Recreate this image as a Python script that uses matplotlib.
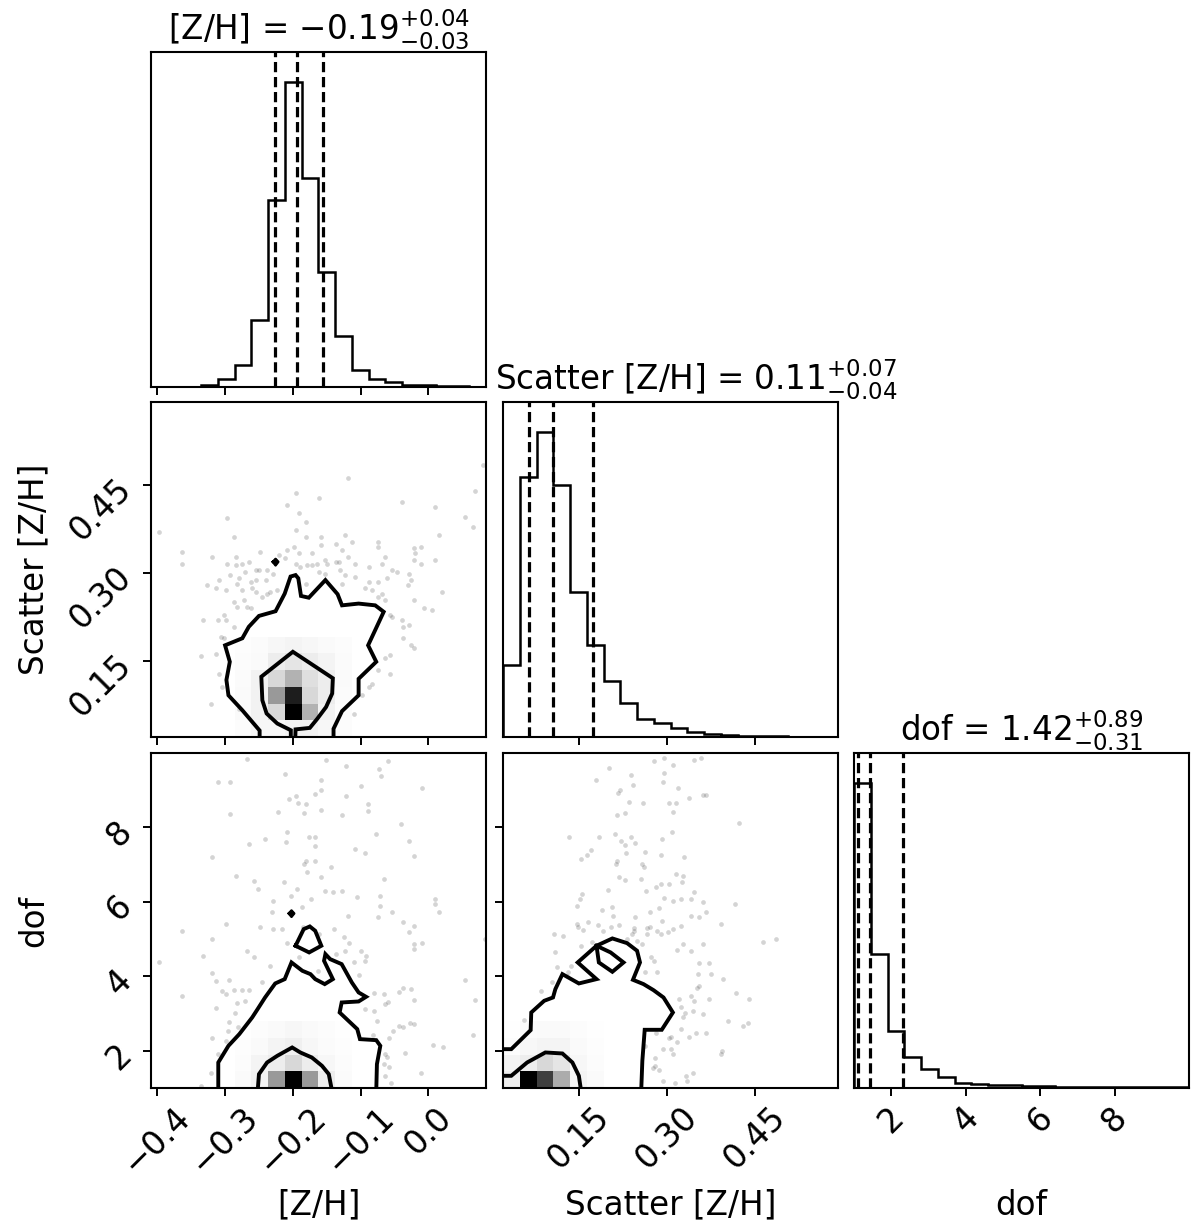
import numpy as np
import matplotlib
matplotlib.use("Agg")
import matplotlib.pyplot as plt
from matplotlib.colors import LinearSegmentedColormap

# ---------------- data ----------------
labels = ["[Z/H]", "Scatter [Z/H]", "dof"]
ranges = [(-0.4093, 0.0849), (0.021, 0.591), (1.0, 10.0)]

title_vals = [("-0.19", "0.03", "0.04"), ("0.11", "0.04", "0.07"), ("1.42", "0.31", "0.89")]
quantiles = [[-0.226, -0.194, -0.156], [0.066, 0.106, 0.174], [1.106, 1.419, 2.31]]

hist_zh = [0.5, 0.5, 1, 7, 24, 67, 202, 560, 914, 627, 344, 152, 52, 24, 14, 7, 5, 3, 2, 1]
hist_sc = [216, 783, 916, 758, 436, 276, 168, 103, 55, 43, 28, 15, 10, 5, 4, 3, 2, 1, 1, 0.5]
hist_dof = [914, 402, 172, 92, 57, 34, 14, 11, 9, 8, 5, 5, 4, 4, 4, 3, 3, 3, 2, 2]

zh_ticks = [-0.4, -0.3, -0.2, -0.1, 0.0]
zh_ticklabels = ["\u22120.4", "\u22120.3", "\u22120.2", "\u22120.1", "0.0"]
sc_ticks = [0.15, 0.30, 0.45]
sc_ticklabels = ["0.15", "0.30", "0.45"]
dof_ticks = [2, 4, 6, 8]
dof_ticklabels = ["2", "4", "6", "8"]

# samples shown as points: [Z/H] vs Scatter
pts_zh_sc_x = [-0.397, -0.363, -0.363, -0.297, -0.287, -0.319, -0.326, -0.314, -0.333, -0.311,
               -0.299, -0.287, -0.301, -0.306, -0.336, -0.314, -0.321, -0.309, -0.304, -0.284,
               -0.284, -0.297, -0.275, -0.265, -0.255, -0.248, -0.238, -0.221, -0.208, -0.196,
               -0.208, -0.191, -0.162, -0.118, -0.181, -0.159, -0.181, -0.196, -0.199, -0.191,
               -0.172, -0.152, -0.137, -0.127, -0.123, -0.113, -0.118, -0.108, -0.088, -0.075,
               -0.074, -0.069, -0.064, -0.061, -0.054, -0.047, -0.039, -0.029, -0.022, -0.020,
               -0.021, -0.011, -0.011, 0.009, 0.010, 0.015, 0.054, 0.066, 0.068, 0.081,
               0.020, 0.005, -0.007, -0.021, -0.025, -0.030, -0.057, -0.054, -0.039, -0.037,
               -0.029, -0.038, -0.025, -0.021, -0.057, -0.064, -0.057, -0.074, -0.083, -0.088,
               -0.098, -0.110, -0.279, -0.282, -0.272, -0.267, -0.262, -0.287, -0.301, -0.275,
               -0.260, -0.255, -0.245, -0.238, -0.233, -0.223, -0.230, -0.240, -0.250, -0.181,
               -0.162, -0.152, -0.127, -0.130, -0.123, -0.108, -0.093, -0.088, -0.083, -0.074,
               -0.069, -0.064, -0.074, -0.132, -0.137, -0.159, -0.172, -0.189, -0.211, -0.196,
               -0.179, -0.164, -0.150, -0.309, -0.292, -0.282, -0.299, -0.279, -0.270, -0.262,
               -0.255]
pts_zh_sc_y = [0.370, 0.336, 0.316, 0.393, 0.362, 0.328, 0.280, 0.274, 0.220, 0.220,
               0.220, 0.209, 0.189, 0.191, 0.159, 0.163, 0.078, 0.129, 0.106, 0.328,
               0.314, 0.316, 0.316, 0.319, 0.305, 0.336, 0.305, 0.331, 0.339, 0.436,
               0.416, 0.402, 0.427, 0.461, 0.387, 0.362, 0.362, 0.373, 0.345, 0.334,
               0.334, 0.322, 0.319, 0.339, 0.365, 0.353, 0.328, 0.316, 0.311, 0.353,
               0.345, 0.316, 0.328, 0.291, 0.305, 0.302, 0.421, 0.299, 0.342, 0.334,
               0.322, 0.345, 0.316, 0.413, 0.322, 0.365, 0.396, 0.379, 0.439, 0.484,
               0.268, 0.237, 0.240, 0.254, 0.288, 0.280, 0.228, 0.226, 0.220, 0.209,
               0.211, 0.189, 0.177, 0.172, 0.160, 0.155, 0.129, 0.135, 0.112, 0.106,
               0.092, 0.061, 0.069, 0.243, 0.254, 0.243, 0.240, 0.251, 0.228, 0.271,
               0.274, 0.268, 0.260, 0.265, 0.268, 0.271, 0.299, 0.288, 0.305, 0.282,
               0.302, 0.299, 0.282, 0.305, 0.297, 0.294, 0.274, 0.285, 0.271, 0.285,
               0.265, 0.254, 0.260, 0.319, 0.350, 0.348, 0.314, 0.311, 0.325, 0.316,
               0.314, 0.316, 0.316, 0.288, 0.297, 0.282, 0.271, 0.291, 0.302, 0.285,
               0.288]

# [Z/H] vs dof
pts_zh_dof_x = [-0.267, -0.311, -0.292, -0.292, -0.211, -0.151, -0.122, -0.060, -0.073, -0.070,
                -0.159, -0.158, -0.167, -0.206, -0.195, -0.193, -0.181, -0.222, -0.183, -0.158,
                -0.127, -0.121, -0.100, -0.089, -0.089, -0.010, -0.040, -0.078, -0.241, -0.265,
                -0.210, -0.208, -0.176, -0.167, -0.167, -0.181, -0.167, -0.184, -0.179, -0.158,
                -0.143, -0.108, -0.094, -0.022, -0.029, -0.065, -0.319, -0.284, -0.257, -0.252,
                -0.213, -0.194, -0.173, -0.153, -0.141, -0.128, -0.106, -0.072, -0.072, -0.075,
                -0.230, -0.231, -0.203, -0.187, -0.119, 0.010, 0.010, 0.015, -0.054, -0.038,
                -0.021, -0.029, -0.009, -0.021, -0.021, -0.299, -0.363, -0.319, -0.248, -0.230,
                -0.216, -0.208, -0.191, -0.185, -0.162, -0.139, -0.137, -0.123, -0.124, -0.117,
                -0.100, -0.092, -0.093, -0.110, -0.103, -0.163, -0.234, -0.257, -0.267, -0.333,
                -0.319, -0.314, -0.294, -0.305, -0.299, -0.287, -0.275, -0.265, -0.246, -0.397,
                -0.363, -0.282, -0.271, -0.313, -0.285, -0.294, -0.295, -0.281, -0.319, -0.298,
                -0.310, -0.321, -0.336, -0.059, -0.080, -0.066, -0.044, -0.037, -0.025, -0.022,
                -0.093, -0.064, -0.080, -0.076, -0.082, -0.058, -0.052, -0.044, -0.037, -0.027,
                -0.021, -0.011, -0.034, -0.064, -0.061, -0.066, -0.058, -0.064, -0.055, 0.006,
                0.021, 0.066, 0.068, 0.054, 0.083]
pts_zh_dof_y = [9.837, 9.210, 9.210, 8.359, 9.434, 9.810, 9.658, 9.774, 9.568, 9.389,
                9.273, 9.004, 8.897, 8.762, 8.852, 8.646, 8.628, 8.404, 8.386, 8.467,
                8.332, 8.852, 9.120, 8.628, 8.449, 9.049, 8.091, 7.822, 7.688, 7.553,
                7.598, 7.867, 7.732, 7.732, 7.508, 7.105, 7.105, 7.016, 6.792, 6.658,
                6.926, 7.419, 7.302, 7.240, 7.643, 6.613, 7.195, 6.702, 6.568, 6.344,
                6.523, 6.344, 6.075, 6.299, 6.273, 6.299, 6.120, 6.165, 5.896, 5.583,
                6.031, 5.717, 6.165, 5.852, 5.619, 6.075, 5.941, 5.717, 5.717, 5.449,
                5.359, 5.180, 4.902, 4.866, 4.732, 5.404, 5.225, 5.001, 5.314, 5.270,
                5.270, 4.893, 4.508, 5.314, 5.135, 5.270, 4.598, 4.688, 5.046, 4.884,
                4.688, 4.544, 4.401, 4.374, 4.042, 4.132, 4.284, 4.508, 4.688, 4.553,
                4.078, 3.881, 3.908, 3.613, 3.523, 3.631, 3.631, 3.640, 3.836, 4.374,
                3.478, 3.272, 3.326, 3.138, 3.004, 2.762, 2.538, 2.628, 2.332, 2.269,
                1.911, 1.392, 1.060, 3.299, 3.541, 3.523, 3.568, 3.684, 3.657, 3.371,
                3.120, 3.254, 3.075, 2.807, 2.430, 2.332, 2.520, 2.672, 2.645, 2.735,
                2.717, 1.392, 1.929, 1.911, 1.821, 1.642, 1.553, 1.329, 1.123, 2.153,
                2.108, 2.422, 3.371, 3.908, 5.001]

# Scatter vs dof
pts_sc_dof_x = [0.277, 0.295, 0.311, 0.346, 0.358, 0.201, 0.239, 0.242, 0.179, 0.220,
                0.216, 0.229, 0.215, 0.235, 0.259, 0.294, 0.293, 0.318, 0.304, 0.315,
                0.311, 0.338, 0.361, 0.367, 0.423, 0.133, 0.184, 0.212, 0.222, 0.238,
                0.245, 0.229, 0.231, 0.215, 0.214, 0.170, 0.164, 0.153, 0.263, 0.290,
                0.291, 0.309, 0.329, 0.258, 0.260, 0.218, 0.228, 0.255, 0.265, 0.281,
                0.289, 0.304, 0.316, 0.327, 0.325, 0.294, 0.311, 0.324, 0.340, 0.346,
                0.362, 0.199, 0.156, 0.152, 0.147, 0.190, 0.207, 0.208, 0.245, 0.271,
                0.286, 0.291, 0.310, 0.324, 0.301, 0.341, 0.355, 0.367, 0.392, 0.415,
                0.463, 0.486, 0.146, 0.148, 0.157, 0.165, 0.182, 0.191, 0.204, 0.218,
                0.243, 0.243, 0.241, 0.232, 0.266, 0.271, 0.283, 0.290, 0.328, 0.317,
                0.340, 0.362, 0.355, 0.372, 0.374, 0.355, 0.396, 0.418, 0.440, 0.437,
                0.429, 0.404, 0.391, 0.394, 0.367, 0.350, 0.337, 0.323, 0.317, 0.306,
                0.293, 0.306, 0.310, 0.280, 0.279, 0.276, 0.286, 0.293, 0.314, 0.333,
                0.334, 0.345, 0.263, 0.282, 0.303, 0.328, 0.344, 0.330, 0.323, 0.320,
                0.340, 0.346, 0.362, 0.371, 0.351, 0.352, 0.283, 0.263, 0.273, 0.278,
                0.258, 0.249, 0.266, 0.108, 0.123, 0.110, 0.112, 0.105, 0.085, 0.057,
                0.136, 0.132, 0.130, 0.153, 0.173]
pts_sc_dof_y = [9.774, 9.855, 9.676, 9.810, 9.855, 9.586, 9.407, 9.138, 9.273, 9.013,
                8.915, 8.377, 8.332, 8.691, 8.646, 9.452, 9.228, 9.049, 8.646, 8.646,
                8.422, 8.780, 8.870, 8.870, 8.109, 7.732, 7.750, 7.822, 7.625, 7.732,
                7.571, 7.526, 7.302, 7.105, 7.016, 7.392, 7.258, 7.150, 7.329, 7.258,
                7.688, 7.867, 7.195, 7.016, 6.926, 6.658, 6.586, 6.613, 6.299, 6.389,
                6.478, 6.478, 6.747, 6.702, 6.541, 6.102, 6.031, 6.075, 6.075, 6.273,
                6.004, 6.326, 6.210, 6.075, 5.896, 5.780, 5.852, 5.628, 5.601, 5.717,
                5.825, 5.493, 5.270, 5.359, 5.180, 5.628, 5.583, 5.717, 5.404, 5.941,
                4.911, 5.001, 5.404, 5.314, 5.252, 5.449, 5.377, 5.225, 5.314, 5.377,
                5.296, 5.225, 5.135, 5.001, 5.287, 5.314, 5.225, 5.135, 4.866, 4.714,
                4.688, 4.866, 4.365, 4.365, 4.060, 3.747, 3.917, 3.559, 3.380, 2.753,
                2.663, 2.807, 1.911, 2.000, 2.466, 2.466, 2.377, 2.574, 2.224, 2.359,
                2.045, 2.045, 1.911, 1.803, 1.597, 1.526, 1.481, 1.177, 1.132, 1.311,
                1.195, 1.401, 2.117, 2.466, 2.332, 2.896, 3.075, 3.003, 3.165, 3.389,
                3.478, 3.344, 2.986, 3.389, 3.684, 4.060, 4.105, 4.105, 4.508, 4.419,
                4.866, 4.956, 5.135, 5.135, 5.072, 4.643, 4.240, 3.836, 3.595, 2.824,
                4.284, 4.123, 4.016, 4.822, 4.911]

# relative 2D density (peak = 1) in the 20x20 grid; block start (col, row)
dens_zh_sc = [[0.10, 0.17, 0.17, 0.22, 0.22, 0.17, 0.10],
              [0.14, 0.22, 0.39, 1.00, 0.55, 0.22, 0.10],
              [0.14, 0.22, 0.63, 0.94, 0.39, 0.26, 0.12],
              [0.12, 0.22, 0.39, 0.55, 0.35, 0.26, 0.14],
              [0.10, 0.14, 0.26, 0.32, 0.26, 0.20, 0.12],
              [0.08, 0.12, 0.17, 0.20, 0.17, 0.14, 0.10]]
dens_zh_dof = [[0.14, 0.22, 0.63, 1.00, 0.63, 0.26, 0.12],
               [0.10, 0.20, 0.26, 0.39, 0.26, 0.17, 0.10],
               [0.08, 0.14, 0.20, 0.24, 0.17, 0.12, 0.08],
               [0.06, 0.10, 0.14, 0.17, 0.14, 0.10, 0.06]]
dens_sc_dof = [[0.26, 1.00, 0.87, 0.57, 0.20, 0.14],
               [0.20, 0.26, 0.39, 0.32, 0.17, 0.10],
               [0.10, 0.17, 0.20, 0.20, 0.14, 0.08],
               [0.06, 0.12, 0.14, 0.14, 0.10, 0.06]]
dens_offsets = {"zh_sc": (5, 0), "zh_dof": (5, 0), "sc_dof": (0, 0)}

# contour lines (data units)
c_zh_sc_outer_x = [-0.249, -0.249, -0.2745, -0.295, -0.298, -0.293, -0.300, -0.2745, -0.265, -0.250,
                   -0.2255, -0.212, -0.2034, -0.196, -0.192, -0.188, -0.1765, -0.152, -0.134, -0.1275,
                   -0.103, -0.0785, -0.066, -0.0785, -0.089, -0.077, -0.103, -0.103, -0.1275, -0.140, -0.140]
c_zh_sc_outer_y = [0.0, 0.032, 0.0665, 0.092, 0.118, 0.149, 0.177, 0.189, 0.2085, 0.227,
                   0.235, 0.265, 0.294, 0.2965, 0.291, 0.261, 0.258, 0.288, 0.264, 0.245,
                   0.248, 0.245, 0.234, 0.203, 0.177, 0.149, 0.120, 0.092, 0.065, 0.035, 0.0]
c_zh_sc_inner_x = [-0.203, -0.203, -0.223, -0.2387, -0.245, -0.2465, -0.200, -0.141, -0.142, -0.151,
                   -0.164, -0.175, -0.196, -0.197]
c_zh_sc_inner_y = [0.0, 0.0325, 0.044, 0.061, 0.0835, 0.1236, 0.166, 0.121, 0.095, 0.072,
                   0.052, 0.0365, 0.034, 0.0]
c_zh_sc_dot_x = [-0.2295, -0.2255, -0.2215, -0.2255, -0.2295]
c_zh_sc_dot_y = [0.319, 0.324, 0.319, 0.313, 0.319]

c_zh_dof_outer_x = [-0.310, -0.310, -0.295, -0.279, -0.260, -0.252, -0.241, -0.226, -0.212, -0.202,
                    -0.186, -0.174, -0.167, -0.153, -0.141, -0.154, -0.152, -0.145, -0.128, -0.113,
                    -0.103, -0.092, -0.103, -0.128, -0.131, -0.105, -0.101, -0.077, -0.071, -0.076, -0.077]
c_zh_dof_outer_y = [0.9, 1.687, 2.135, 2.448, 2.896, 3.120, 3.433, 3.810, 3.926, 4.374,
                    4.150, 4.060, 3.926, 3.792, 3.926, 4.419, 4.598, 4.463, 4.329, 3.836,
                    3.568, 3.451, 3.326, 3.299, 3.030, 2.583, 2.314, 2.287, 2.135, 1.642, 0.9]
c_zh_dof_island_x = [-0.196, -0.184, -0.175, -0.167, -0.158, -0.176, -0.196]
c_zh_dof_island_y = [4.822, 5.269, 5.341, 5.224, 4.822, 4.643, 4.822]
c_zh_dof_inner_x = [-0.252, -0.250, -0.238, -0.223, -0.201, -0.189, -0.172, -0.157, -0.147, -0.142]
c_zh_dof_inner_y = [0.9, 1.374, 1.687, 1.866, 2.090, 1.956, 1.821, 1.597, 1.374, 0.9]
c_zh_dof_dot_x = [-0.206, -0.202, -0.198, -0.202, -0.206]
c_zh_dof_dot_y = [5.690, 5.77, 5.690, 5.60, 5.690]

c_sc_dof_outer_x = [0.0, 0.035, 0.068, 0.069, 0.091, 0.106, 0.110, 0.122, 0.150, 0.180,
                    0.148, 0.180, 0.207, 0.232, 0.249, 0.254, 0.242, 0.260, 0.277, 0.294,
                    0.310, 0.291, 0.262, 0.258, 0.256]
c_sc_dof_outer_y = [2.045, 2.045, 2.556, 3.030, 3.344, 3.433, 3.657, 4.060, 3.810, 3.926,
                    4.374, 4.822, 5.019, 4.893, 4.688, 4.374, 3.908, 3.792, 3.630, 3.433,
                    3.030, 2.565, 2.565, 1.732, 0.9]
c_sc_dof_hole_x = [0.180, 0.184, 0.207, 0.226, 0.204, 0.180]
c_sc_dof_hole_y = [4.822, 4.374, 4.123, 4.374, 4.643, 4.822]
c_sc_dof_inner_x = [0.0, 0.035, 0.062, 0.093, 0.122, 0.139, 0.150, 0.154]
c_sc_dof_inner_y = [1.329, 1.329, 1.687, 1.956, 1.929, 1.687, 1.329, 0.9]

# ---------------- figure ----------------
FS = 23.5
fig = plt.figure(figsize=(12, 12.3), dpi=100)
L = [0.1258, 0.4192, 0.7117]
B = [0.6854, 0.4008, 0.1154]
W, H = 0.2792, 0.2724

dens_cmap = LinearSegmentedColormap.from_list("density_cmap", [(0, 0, 0, 1), (1, 1, 1, 0)])
ticks = [(zh_ticks, zh_ticklabels), (sc_ticks, sc_ticklabels), (dof_ticks, dof_ticklabels)]
hists = [hist_zh, hist_sc, hist_dof]


def style(ax):
    for s in ax.spines.values():
        s.set_linewidth(1.5)
    ax.tick_params(direction="out", length=5.5, width=1.4, labelsize=FS)


axes = {}
for i in range(3):
    for j in range(i + 1):
        ax = fig.add_axes([L[j], B[i], W, H])
        axes[(i, j)] = ax
        style(ax)

# diagonal histograms
for k in range(3):
    ax = axes[(k, k)]
    lo, hi = ranges[k]
    edges = np.linspace(lo, hi, len(hists[k]) + 1)
    vals = np.array(hists[k], dtype=float)
    ax.stairs(vals, edges, color="k", lw=1.8, baseline=0)
    for q in quantiles[k]:
        ax.axvline(q, color="k", ls=(0, (3.2, 1.5)), lw=2.3)
    ax.set_xlim(lo, hi)
    ax.set_ylim(0, 1.1 * vals.max())
    ax.set_yticks([])
    t, tl = ticks[k]
    ax.set_xticks(t)
    med, lo_e, hi_e = title_vals[k]
    title = "{0} = ${1}_{{-{2}}}^{{+{3}}}$".format(labels[k], med, lo_e, hi_e)
    xpos = 0.578 if k == 1 else 0.5
    ax.set_title(title, fontsize=FS, x=xpos, pad=7)
    if k == 2:
        ax.set_xticklabels(tl, rotation=45)
        ax.set_xlabel(labels[k], fontsize=FS)
        ax.xaxis.set_label_coords(0.5, -0.3)
    else:
        ax.set_xticklabels([])


def panel(ax, px, py, dens, off, xr, yr, lines, dots):
    ax.plot(px, py, "o", ms=3.4, color="k", alpha=0.17, mec="none", zorder=1)
    xe = np.linspace(xr[0], xr[1], 21)
    ye = np.linspace(yr[0], yr[1], 21)
    F = np.zeros((20, 20))
    d = np.array(dens)
    c0, r0 = off
    F[r0:r0 + d.shape[0], c0:c0 + d.shape[1]] = d
    ax.pcolormesh(xe, ye, 1 - F, cmap=dens_cmap, vmin=0, vmax=1,
                  shading="flat", antialiased=False, edgecolors="none", zorder=2)
    for lx, ly in lines:
        ax.plot(lx, ly, color="k", lw=2.8, zorder=3, solid_joinstyle="miter")
    for lx, ly in dots:
        ax.fill(lx, ly, color="k", zorder=3)
        ax.plot(lx, ly, color="k", lw=1.8, zorder=3)
    ax.set_xlim(*xr)
    ax.set_ylim(*yr)


panel(axes[(1, 0)], pts_zh_sc_x, pts_zh_sc_y, dens_zh_sc, dens_offsets["zh_sc"],
      ranges[0], ranges[1],
      [(c_zh_sc_outer_x, c_zh_sc_outer_y), (c_zh_sc_inner_x, c_zh_sc_inner_y)],
      [(c_zh_sc_dot_x, c_zh_sc_dot_y)])
panel(axes[(2, 0)], pts_zh_dof_x, pts_zh_dof_y, dens_zh_dof, dens_offsets["zh_dof"],
      ranges[0], ranges[2],
      [(c_zh_dof_outer_x, c_zh_dof_outer_y), (c_zh_dof_island_x, c_zh_dof_island_y),
       (c_zh_dof_inner_x, c_zh_dof_inner_y)],
      [(c_zh_dof_dot_x, c_zh_dof_dot_y)])
panel(axes[(2, 1)], pts_sc_dof_x, pts_sc_dof_y, dens_sc_dof, dens_offsets["sc_dof"],
      ranges[1], ranges[2],
      [(c_sc_dof_outer_x, c_sc_dof_outer_y), (c_sc_dof_hole_x, c_sc_dof_hole_y),
       (c_sc_dof_inner_x, c_sc_dof_inner_y)],
      [])

# ticks / labels for 2D panels
for (i, j), ax in axes.items():
    if i == j:
        continue
    xt, xtl = ticks[j]
    yt, ytl = ticks[i]
    ax.set_xticks(xt)
    ax.set_yticks(yt)
    if i == 2:
        ax.set_xticklabels(xtl, rotation=45)
        ax.set_xlabel(labels[j], fontsize=FS)
        ax.xaxis.set_label_coords(0.5, -0.3)
    else:
        ax.set_xticklabels([])
    if j == 0:
        ax.set_yticklabels(ytl, rotation=45)
        ax.set_ylabel(labels[i], fontsize=FS)
        ax.yaxis.set_label_coords(-0.3, 0.5)
    else:
        ax.set_yticklabels([])

fig.savefig("out.png", dpi=100)
